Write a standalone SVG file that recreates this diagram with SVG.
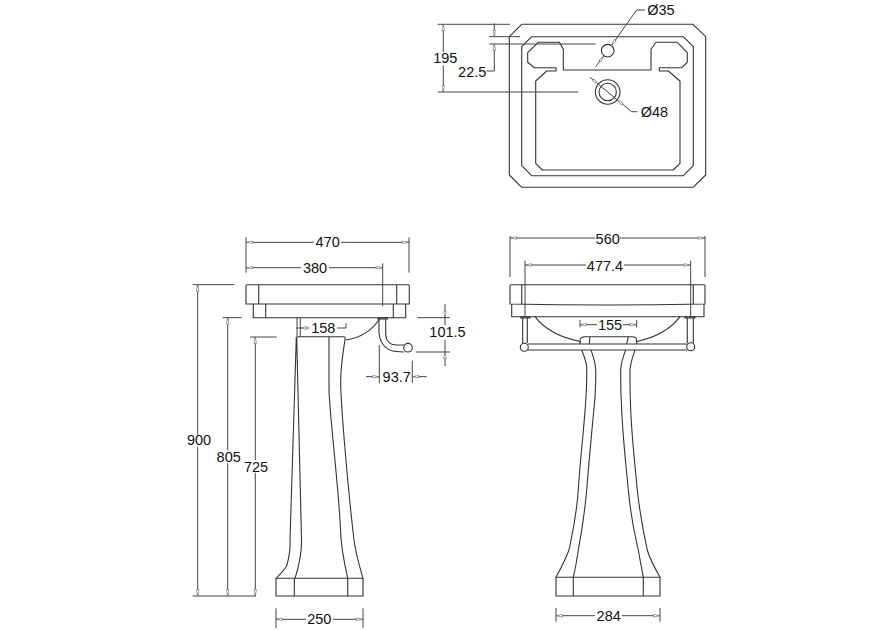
<svg xmlns="http://www.w3.org/2000/svg" width="891" height="630" viewBox="0 0 891 630">
<style>
.l{fill:none;stroke:#333;stroke-width:1.1;stroke-linejoin:round}
.d{fill:none;stroke:#444;stroke-width:1}
.t{marker-start:url(#ah)}
text{font-family:"Liberation Sans",Arial,sans-serif;font-size:14.5px;fill:#111;text-anchor:middle}
</style>
<defs>
<marker id="ah" markerUnits="userSpaceOnUse" viewBox="0 0 8 4" refX="0" refY="2" markerWidth="8" markerHeight="4" orient="auto"><path d="M0 2L6.5 .7V3.3Z" fill="#fff" stroke="#666" stroke-width=".6"/></marker>
</defs>
<rect width="891" height="630" fill="#fff"/>
<g id="plan-view">
<path class="l" d="M521.7 24.3H693L705.7 36.7V175L693 187.3H521.7L509.3 175V36.7Z"/>
<path class="l" d="M531.7 36.7H683.3L693.3 46.7V165.7L683.3 175.7H531.7L521.7 165.7V46.7Z"/>
<path class="l" d="M563.3 70H651V49.3L656 42.3H677.3L687.3 52.7V62.3L681.7 67.7H659.3V71H668.3L680 81V163.3L673.3 170H542.3L535.7 163.3V81L546.7 71H556V67.7H534.3L527.7 62.3V52.7L538.3 42.3H559.3L563.3 49.3Z"/>
<circle class="l" cx="607.7" cy="50.7" r="6.3"/>
<circle class="l" cx="607.7" cy="92" r="12.3"/>
<circle class="l" cx="607.7" cy="92" r="8.7"/>
</g>
<g id="side-view">
<path class="l" d="M247 284.7H408.3Q409.3 284.7 409.3 285.7V304H246V285.7Q246 284.7 247 284.7ZM258.7 284.7V304M396.7 284.7V304"/>
<path class="l" d="M253.3 304V317.7H405.7V304M265.7 304V317.7M393.3 304V317.7"/>
<path class="l" d="M296.7 336.7H343.5Q345.5 336.7 345 339C344 348 341 362 340.7 380C340.5 400 347 480 354 540C356 555 360 568 363 578.3M296.3 337L290 540C290.5 548 289.5 556 286.7 566C283 572 279 575 276 578.3M296.7 337L301.5 540C301.7 548 300 563 295 578.3M329 337V390C330 420 339 490 340.5 530C341 548 344 562 347.7 578.3"/>
<path class="l" d="M276 578.3H363V596H276ZM294.3 578.3V596M347.7 578.3V596"/>
<path class="l" d="M345.7 340C360 338 372 331 380 318.3"/>
<path class="l" d="M378 317.7H387.5V319H378Z"/>
<path class="l" d="M379 318.5V333C380 345 388 351 396 351.5L404 352M385.7 319V334C386 341 390 345 396 345H404"/>
<circle class="l" cx="408" cy="347.7" r="4.3" style="fill:#fff"/>
</g>
<g id="front-view">
<path class="l" d="M511 284.7H704Q705 284.7 705 285.7V304Q607 306 510 304V285.7Q510 284.7 511 284.7ZM521.7 284.7V304.5M693.3 284.7V304.5"/>
<path class="l" d="M511.7 304V316.7H704V304"/>
<path class="l" d="M535 316.7C545 330 562 338 581 341.7M680 316.7C670 330 654 338 636 341.7"/>
<path class="l" d="M580 344V341Q580 336.7 585 336.7H632Q636.7 336.7 636.7 341V344M590 336.7L589.3 344M628.3 336.7L626.7 344"/>
<path class="l" d="M528 344H687M528 350H687"/>
<path class="l" d="M522.7 317.7V343M527.3 317.7V343M687.3 317.7V343M693.3 317.7V343"/>
<path class="l" d="M520.7 316.7H530V318H520.7ZM685 316.7H695V318H685Z"/>
<circle class="l" cx="524.3" cy="347.3" r="4" style="fill:#fff"/>
<circle class="l" cx="690.7" cy="346.7" r="4" style="fill:#fff"/>
<path class="l" d="M581.7 350C584 356 586.5 362 586.7 367C587 378 586.5 388 586 397C584 430 580 460 578.3 490C576 520 572 535 569 550C566 558 561 568 556 577.3"/>
<path class="l" d="M591 350C593 356 595.5 362 595.7 370C596 380 595.5 388 595 397C592 430 589 460 586.7 490C584 520 581 535 578.3 550C577 560 575 570 573.3 577.3"/>
<path class="l" d="M625.7 350C623.5 356 621 362 620.7 370C620.5 385 621 398 621.7 410C623 440 626 465 628.3 490C631 520 635 535 638.3 550C640 560 642 570 643.3 577.3"/>
<path class="l" d="M635 350C633 356 630.5 362 630 370C629.8 385 630.2 398 630.7 410C632 440 635 465 637.3 490C640 515 644 535 647.3 550C650 560 655 568 660 577.3"/>
<path class="l" d="M556 577.3H660V596H556ZM573.3 577.3V596M643.3 577.3V596"/>
</g>
<g id="connectors">
<path class="d" d="M437.7 24.3H510M437.7 92H578.3M489.3 36.7H520M489.3 44H595.7"/>
<path class="d t" d="M443.3 24.3V52"/><path class="d t" d="M443.3 92V65.5"/>
<path class="d t" d="M494.3 36.7V23.3"/><path class="d t" d="M494.3 44V71H486.7"/>
<path class="d t" d="M611.4 45.6L636.7 10H645"/><path class="d t" d="M604 55.8L595.7 66.7"/>
<path class="d t" d="M617.2 99.8L631.7 111.7H637.3"/><path class="d t" d="M598.2 84.2L590 77.3"/>
<path class="d" d="M598.2 84.2L617.2 99.8"/>
<path class="d" d="M192.7 284.7H234.3M222.7 317.7H241.7M250 337H276.7M192.7 596H256"/>
<path class="d t" d="M197.7 284.7V435"/><path class="d t" d="M197.7 596V446.7"/>
<path class="d t" d="M227.7 317.7V450"/><path class="d t" d="M227.7 596V463.3"/>
<path class="d t" d="M255.3 337V460"/><path class="d t" d="M255.3 596V472.7"/>
<path class="d" d="M246 237.3V272.7M409 237.3V272.7M382.7 263.3V306"/>
<path class="d t" d="M246 242.3H314"/><path class="d t" d="M409 242.3H341"/>
<path class="d t" d="M246 267.7H301"/><path class="d t" d="M382.7 267.7H329"/>
<path class="d" d="M297 317.7V336.7M300.3 317.7V336.7M296 328H300.3"/>
<path class="d t" d="M300.3 328H309"/><path class="d" d="M337.3 328H346V323.3"/>
<path class="d" d="M417.3 317.7H450M416 352H450"/>
<path class="d t" d="M445 317.7V304"/><path class="d t" d="M445 352V366"/>
<path class="d" d="M445 317.7V325M445 340V352"/>
<path class="d" d="M379.3 345V383.3M412.3 360.7V383"/>
<path class="d t" d="M379.3 376.7H366"/><path class="d t" d="M412.3 376.7H426.7"/>
<path class="d" d="M276 608.3V628M363 608.3V628"/>
<path class="d t" d="M276 619.3H306"/><path class="d t" d="M363 619.3H333"/>
<path class="d" d="M510 236V277M705 236V277M525 260.7V316M690.7 260.7V316"/>
<path class="d t" d="M510 238H595"/><path class="d t" d="M705 238H620"/>
<path class="d t" d="M525 265H586"/><path class="d t" d="M690.7 265H624"/>
<path class="d" d="M580 320V327.3M636.7 320V327.3"/>
<path class="d t" d="M580 324.7H597"/><path class="d t" d="M636.7 324.7H623"/>
<path class="d" d="M556 608V621.7M660 608V621.7"/>
<path class="d t" d="M556 615.7H595"/><path class="d t" d="M660 615.7H622"/>
</g>
<g id="dimension-text">
<text x="661" y="14.7">Ø35</text>
<text x="654.5" y="116.7">Ø48</text>
<text x="445.3" y="63.3">195</text>
<text x="472.2" y="76.7">22.5</text>
<text x="327.7" y="247.3">470</text>
<text x="315" y="272.7">380</text>
<text x="323.3" y="333.3">158</text>
<text x="447.5" y="336.7">101.5</text>
<text x="396.7" y="381.7">93.7</text>
<text x="319.3" y="624.3">250</text>
<text x="607.7" y="244">560</text>
<text x="605" y="270.7">477.4</text>
<text x="610" y="329.7">155</text>
<text x="608.7" y="620.7">284</text>
<text x="199" y="445.3">900</text>
<text x="228.7" y="461.7">805</text>
<text x="256" y="471.7">725</text>
</g>
</svg>
